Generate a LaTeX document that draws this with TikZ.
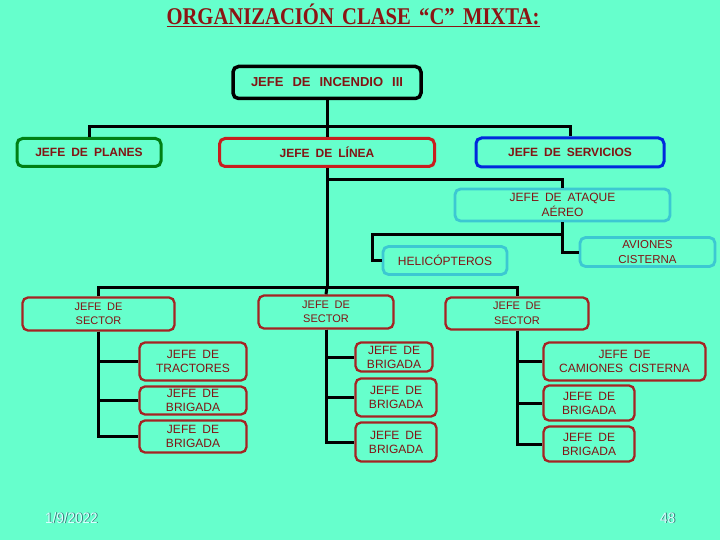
\documentclass[tikz,border=0pt]{standalone}
\usepackage{fontspec}
\setmainfont[WordSpace=1.8]{Liberation Sans}
\newfontfamily\titlefont[WordSpace=1.6]{Liberation Serif}
\newfontfamily\footfont{Liberation Sans}
\definecolor{bg}{RGB}{102,255,204}
\definecolor{txt}{RGB}{130,20,20}
\definecolor{titlered}{RGB}{140,20,20}
\definecolor{pgreen}{RGB}{0,128,20}
\definecolor{lred}{RGB}{200,30,30}
\definecolor{pblue}{RGB}{0,40,220}
\definecolor{cyanb}{RGB}{60,200,210}
\definecolor{secred}{RGB}{165,35,35}
\definecolor{footc}{RGB}{215,255,255}
\definecolor{foots}{RGB}{60,120,120}
\begin{document}
\begin{tikzpicture}[x=1pt,y=-1pt,
  base/.style={rounded corners=5.5pt, inner sep=0pt, align=center, text=txt,
    font=\fontsize{12}{14.5}\selectfont},
  topbox/.style={base, line width=3pt, font=\bfseries\fontsize{12}{13}\selectfont},
  cyanbox/.style={base, draw=cyanb, line width=2.8pt},
  sec/.style={base, draw=secred, line width=2.3pt},
  sector/.style={sec, font=\fontsize{11}{14.5}\selectfont},
  sub/.style={sec, font=\fontsize{12}{14}\selectfont},
  conn/.style={line width=3pt, black},
  foot/.style={anchor=base west, inner sep=0pt, font=\footfont\fontsize{15}{16}\selectfont}]
\fill[bg] (0,0) rectangle (720,540);
\useasboundingbox (0,0) rectangle (720,540);

% title
\node[anchor=base, inner sep=0pt, text=titlered, font=\titlefont\bfseries\fontsize{24}{26}\selectfont] (title) at (353,24.5)
  {\scalebox{0.86}[1]{\underline{ORGANIZACIÓN CLASE “C” MIXTA:}}};

% top level
\node[topbox, draw=black, line width=3.5pt, minimum width=188, minimum height=32, font=\bfseries\fontsize{13}{14}\selectfont] (inc) at (327,82.5) {JEFE\hspace{2.5pt} DE\hspace{2.5pt} INCENDIO\hspace{2.5pt} III};
\node[topbox, draw=pgreen, minimum width=144, minimum height=28] (pla) at (89,152.5) {JEFE DE PLANES};
\node[topbox, draw=lred, minimum width=215, minimum height=28] (lin) at (327,152.5) {JEFE DE LÍNEA};
\node[topbox, draw=pblue, minimum width=188, minimum height=29] (ser) at (570,152.5) {JEFE DE SERVICIOS};

% air attack
\node[cyanbox, minimum width=215, minimum height=32] (ata) at (562.5,205) {JEFE DE ATAQUE\\AÉREO};
\node[cyanbox, minimum width=124, minimum height=28] (hel) at (445,260.5) {HELICÓPTEROS};
\node[cyanbox, minimum width=135, minimum height=29, font=\fontsize{11.5}{14.5}\selectfont] (avi) at (647.5,252) {AVIONES\\CISTERNA};

% sectors
\node[sector, minimum width=152, minimum height=33] (sl) at (98.5,314) {JEFE DE\\SECTOR};
\node[sector, minimum width=135, minimum height=33] (sm) at (326,312) {JEFE DE\\SECTOR};
\node[sector, minimum width=143, minimum height=32] (sr) at (517,313.5) {JEFE DE\\SECTOR};

% left children
\node[sub, minimum width=107, minimum height=38] (lt) at (193,361.5) {JEFE DE\\TRACTORES};
\node[sub, minimum width=107, minimum height=28] (lb1) at (193,400.5) {JEFE DE\\BRIGADA};
\node[sub, minimum width=107, minimum height=32] (lb2) at (193,436.5) {JEFE DE\\BRIGADA};

% middle children
\node[sub, minimum width=77, minimum height=29] (mb1) at (394,357) {JEFE DE\\BRIGADA};
\node[sub, minimum width=81, minimum height=38] (mb2) at (396,397.5) {JEFE DE\\BRIGADA};
\node[sub, minimum width=81, minimum height=39] (mb3) at (396,442) {JEFE DE\\BRIGADA};

% right children
\node[sub, minimum width=162, minimum height=38] (cam) at (624.5,361.5) {JEFE DE\\CAMIONES CISTERNA};
\node[sub, minimum width=91, minimum height=35] (rb1) at (589,403) {JEFE DE\\BRIGADA};
\node[sub, minimum width=91, minimum height=35] (rb2) at (589,444) {JEFE DE\\BRIGADA};

% connectors
\coordinate (b1) at (327,127);
\coordinate (b2) at (327,180);
\coordinate (b3) at (327,287);
\coordinate (b4) at (372,234);
\draw[conn] (pla.north) |- (b1) -| (ser.north);
\draw[conn] (inc.south) -- (lin.north);
\draw[conn] (b2) -| (ata.north);
\draw[conn] (lin.south) -- (b3);
\draw[conn] (sl.north) |- (b3) -| (sr.north);
\draw[conn] (b3) -- (sm.north);
\draw[conn] (hel.west) -| (b4) -| (ata.south);
\draw[conn] (avi.west) -| (ata.south);
\draw[conn] (sl.south) |- (lt.west);
\draw[conn] (sl.south) |- (lb1.west);
\draw[conn] (sl.south) |- (lb2.west);
\draw[conn] (sm.south) |- (mb1.west);
\draw[conn] (sm.south) |- (mb2.west);
\draw[conn] (sm.south) |- (mb3.west);
\draw[conn] (sr.south) |- (cam.west);
\draw[conn] (sr.south) |- (rb1.west);
\draw[conn] (sr.south) |- (rb2.west);

% footer
\node[foot, text=foots] (dates) at (45.8,523.8) {\scalebox{0.9}[1]{1/9/2022}};
\node[foot, text=footc] (date) at (45,523) {\scalebox{0.9}[1]{1/9/2022}};
\node[foot, text=foots] (pgs) at (660.8,523.8) {\scalebox{0.9}[1]{48}};
\node[foot, text=footc] (pg) at (660,523) {\scalebox{0.9}[1]{48}};
\end{tikzpicture}
\end{document}
